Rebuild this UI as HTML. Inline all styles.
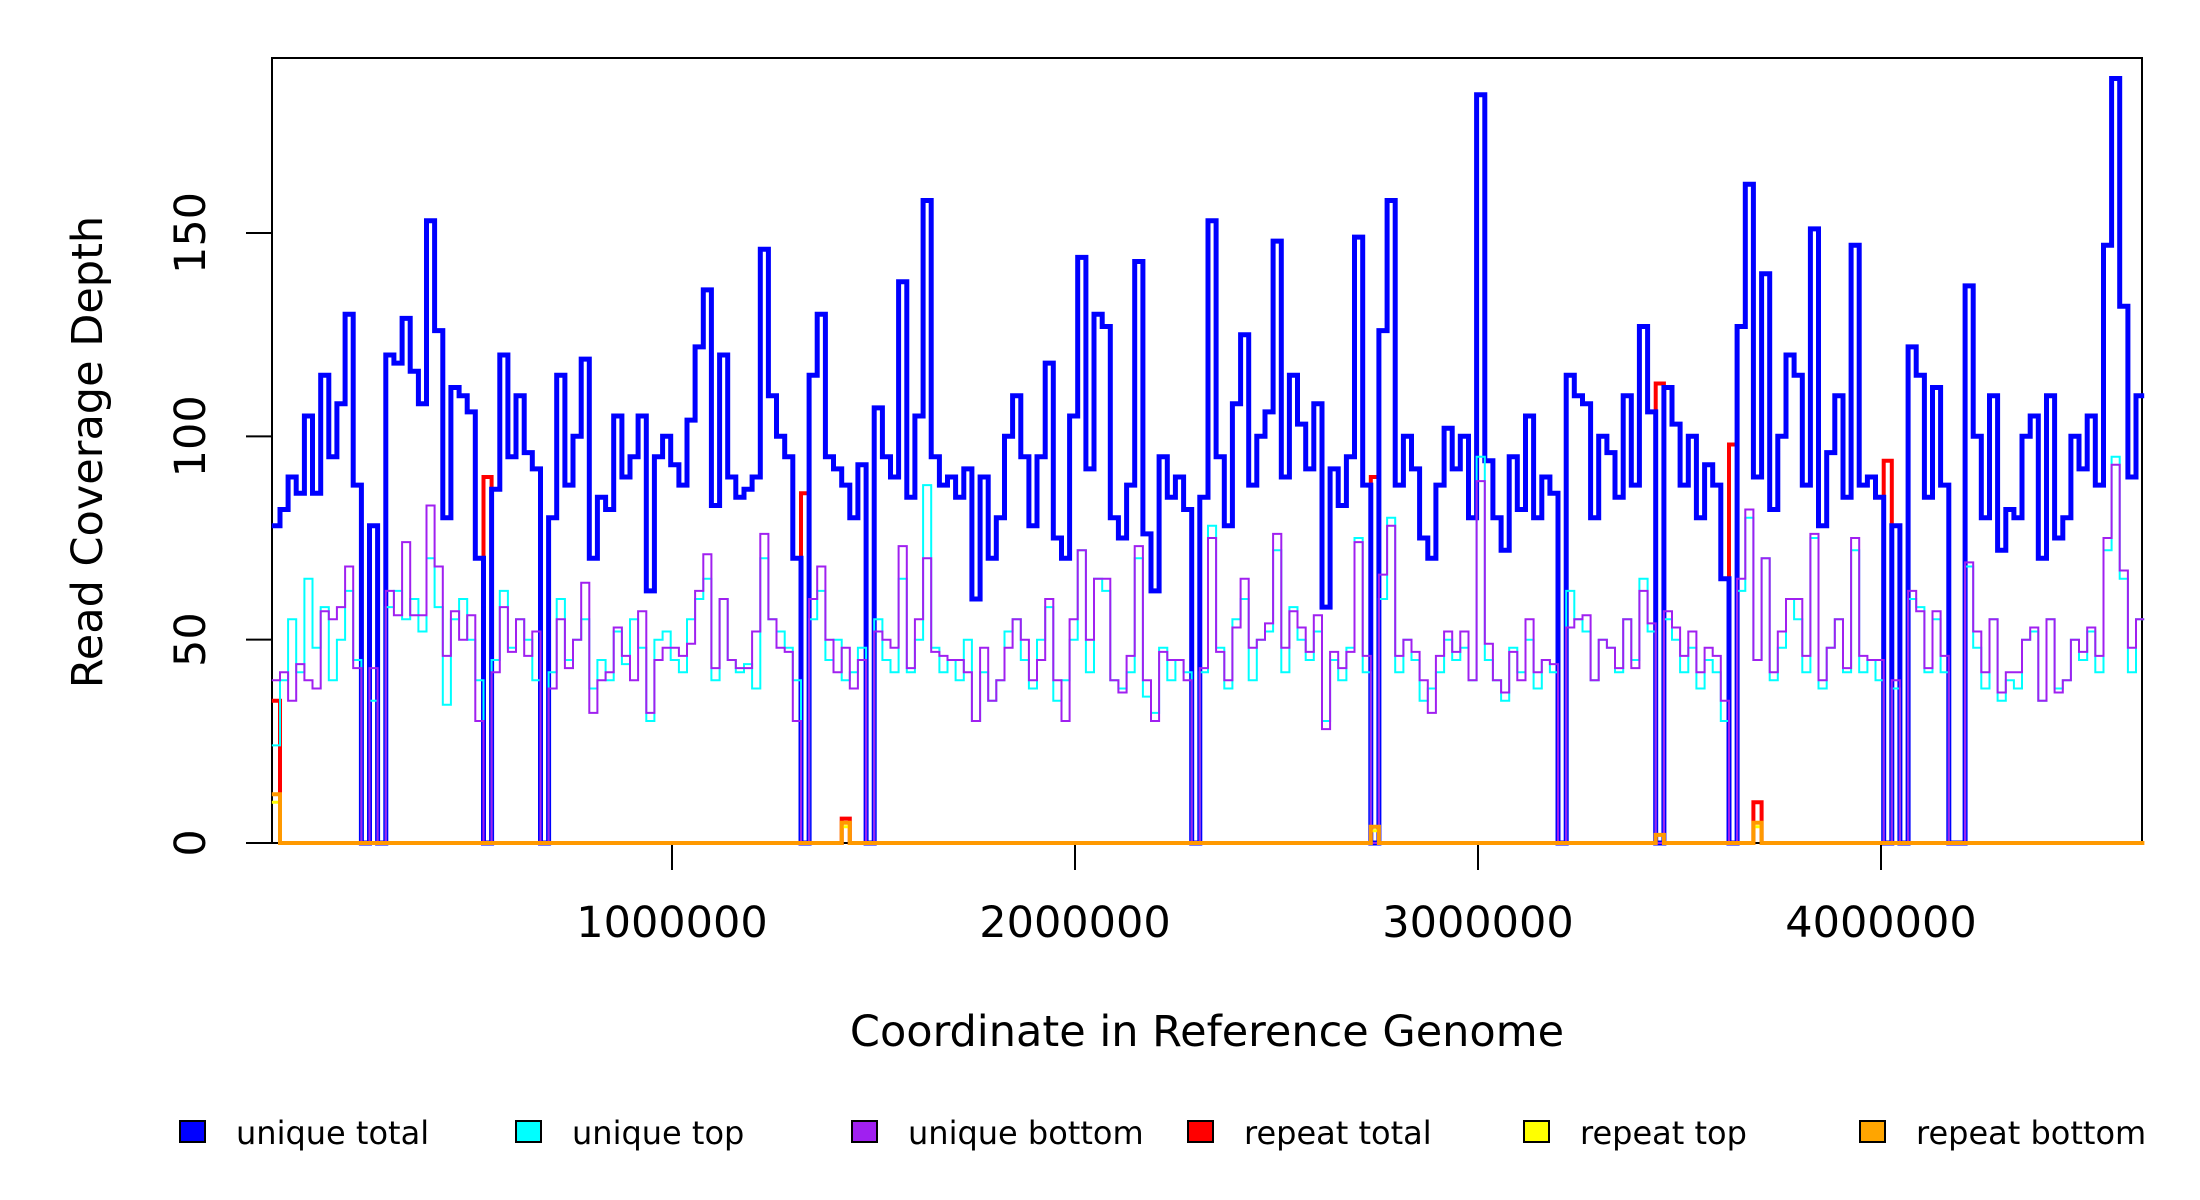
<!DOCTYPE html>
<html><head><meta charset="utf-8"><style>
html,body{margin:0;padding:0;background:#fff;}
svg{display:block;font-family:"DejaVu Sans","Liberation Sans",sans-serif;}
</style></head><body>
<svg id="chart" width="2200" height="1200" viewBox="0 0 2200 1200" xmlns="http://www.w3.org/2000/svg">
<rect x="272" y="58" width="1870" height="785" fill="none" stroke="#000" stroke-width="2"/>
<g id="plot"></g>
<g id="axes"></g>
<text x="1207" y="1046" font-size="43" text-anchor="middle">Coordinate in Reference Genome</text>
<text x="0" y="0" font-size="43" text-anchor="middle" transform="translate(102,452) rotate(-90)">Read Coverage Depth</text>
<g id="legend"></g>
</svg>
<script>
const binStart = 7000;
const binSize = 20200;
const yTicks = [0, 50, 100, 150];
const xTicks = [1000000, 2000000, 3000000, 4000000];
const xTickLabels = ["1000000", "2000000", "3000000", "4000000"];
const seriesNames = ["unique total", "unique top", "unique bottom", "repeat total", "repeat top", "repeat bottom"];
const uniqueTotal = [
78,82,90,86,105,86,115,95,108,130,
88,0,78,0,120,118,129,116,108,153,
126,80,112,110,106,70,0,87,120,95,
110,96,92,0,80,115,88,100,119,70,
85,82,105,90,95,105,62,95,100,93,
88,104,122,136,83,120,90,85,87,90,
146,110,100,95,70,0,115,130,95,92,
88,80,93,0,107,95,90,138,85,105,
158,95,88,90,85,92,60,90,70,80,
100,110,95,78,95,118,75,70,105,144,
92,130,127,80,75,88,143,76,62,95,
85,90,82,0,85,153,95,78,108,125,
88,100,106,148,90,115,103,92,108,58,
92,83,95,149,88,0,126,158,88,100,
92,75,70,88,102,92,100,80,184,94,
80,72,95,82,105,80,90,86,0,115,
110,108,80,100,96,85,110,88,127,106,
0,112,103,88,100,80,93,88,65,0,
127,162,90,140,82,100,120,115,88,151,
78,96,110,85,147,88,90,85,0,78,
0,122,115,85,112,88,0,0,137,100,
80,110,72,82,80,100,105,70,110,75,
80,100,92,105,88,147,188,132,90,110];
const uniqueTop = [
24,40,55,42,65,48,58,40,50,62,
45,0,35,0,58,62,55,60,52,70,
58,34,55,60,50,40,0,45,62,48,
55,50,40,0,42,60,45,50,55,38,
45,40,52,44,55,48,30,50,52,45,
42,55,60,65,40,60,45,42,44,38,
70,55,52,48,40,0,55,62,45,50,
40,42,48,0,55,45,42,65,42,50,
88,48,42,45,40,50,30,42,35,40,
52,55,45,38,50,58,35,40,50,72,
42,65,62,40,38,42,70,36,32,48,
40,45,42,0,42,78,48,38,55,60,
40,50,52,72,42,58,50,45,52,30,
45,40,48,75,42,0,60,80,42,50,
45,35,38,42,50,45,48,40,95,45,
40,35,48,42,50,38,45,42,0,62,
55,52,40,50,48,42,55,45,65,52,
0,55,50,42,48,38,45,42,30,0,
62,80,45,70,40,48,60,55,42,75,
38,48,55,42,72,42,45,40,0,38,
0,60,58,42,55,42,0,0,68,48,
38,55,35,40,38,50,52,35,55,38,
40,50,45,52,42,72,95,65,42,55];
const uniqueBottom = [
40,42,35,44,40,38,57,55,58,68,
43,0,43,0,62,56,74,56,56,83,
68,46,57,50,56,30,0,42,58,47,
55,46,52,0,38,55,43,50,64,32,
40,42,53,46,40,57,32,45,48,48,
46,49,62,71,43,60,45,43,43,52,
76,55,48,47,30,0,60,68,50,42,
48,38,45,0,52,50,48,73,43,55,
70,47,46,45,45,42,30,48,35,40,
48,55,50,40,45,60,40,30,55,72,
50,65,65,40,37,46,73,40,30,47,
45,45,40,0,43,75,47,40,53,65,
48,50,54,76,48,57,53,47,56,28,
47,43,47,74,46,0,66,78,46,50,
47,40,32,46,52,47,52,40,89,49,
40,37,47,40,55,42,45,44,0,53,
55,56,40,50,48,43,55,43,62,54,
0,57,53,46,52,42,48,46,35,0,
65,82,45,70,42,52,60,60,46,76,
40,48,55,43,75,46,45,45,0,40,
0,62,57,43,57,46,0,0,69,52,
42,55,37,42,42,50,53,35,55,37,
40,50,47,53,46,75,93,67,48,55];
const repeatTotal = [
35,0,0,0,0,0,0,0,0,0, 0,0,0,0,0,0,0,0,0,0, 0,0,0,0,0,0,90,0,0,0,
0,0,0,0,0,0,0,0,0,0, 0,0,0,0,0,0,0,0,0,0, 0,0,0,0,0,0,0,0,0,0,
0,0,0,0,0,86,0,0,0,0, 6,0,0,0,0,0,0,0,0,0, 0,0,0,0,0,0,0,0,0,0,
0,0,0,0,0,0,0,0,0,0, 0,0,0,0,0,0,0,0,0,0, 0,0,0,0,0,0,0,0,0,0,
0,0,0,0,0,0,0,0,0,0, 0,0,0,0,0,90,0,0,0,0, 0,0,0,0,0,0,0,0,0,0,
0,0,0,0,0,0,0,0,0,0, 0,0,0,0,0,0,0,0,0,0, 113,0,0,0,0,0,0,0,0,98,
0,0,10,0,0,0,0,0,0,0, 0,0,0,0,0,0,0,0,94,0, 0,0,0,0,0,0,0,0,0,0,
0,0,0,0,0,0,0,0,0,0, 0,0,0,0,0,0,0,0,0,0];
const repeatTop = [
10,0,0,0,0,0,0,0,0,0, 0,0,0,0,0,0,0,0,0,0, 0,0,0,0,0,0,0,0,0,0,
0,0,0,0,0,0,0,0,0,0, 0,0,0,0,0,0,0,0,0,0, 0,0,0,0,0,0,0,0,0,0,
0,0,0,0,0,0,0,0,0,0, 4,0,0,0,0,0,0,0,0,0, 0,0,0,0,0,0,0,0,0,0,
0,0,0,0,0,0,0,0,0,0, 0,0,0,0,0,0,0,0,0,0, 0,0,0,0,0,0,0,0,0,0,
0,0,0,0,0,0,0,0,0,0, 0,0,0,0,0,3,0,0,0,0, 0,0,0,0,0,0,0,0,0,0,
0,0,0,0,0,0,0,0,0,0, 0,0,0,0,0,0,0,0,0,0, 2,0,0,0,0,0,0,0,0,0,
0,0,4,0,0,0,0,0,0,0, 0,0,0,0,0,0,0,0,0,0, 0,0,0,0,0,0,0,0,0,0,
0,0,0,0,0,0,0,0,0,0, 0,0,0,0,0,0,0,0,0,0];
const repeatBottom = [
12,0,0,0,0,0,0,0,0,0, 0,0,0,0,0,0,0,0,0,0, 0,0,0,0,0,0,0,0,0,0,
0,0,0,0,0,0,0,0,0,0, 0,0,0,0,0,0,0,0,0,0, 0,0,0,0,0,0,0,0,0,0,
0,0,0,0,0,0,0,0,0,0, 5,0,0,0,0,0,0,0,0,0, 0,0,0,0,0,0,0,0,0,0,
0,0,0,0,0,0,0,0,0,0, 0,0,0,0,0,0,0,0,0,0, 0,0,0,0,0,0,0,0,0,0,
0,0,0,0,0,0,0,0,0,0, 0,0,0,0,0,4,0,0,0,0, 0,0,0,0,0,0,0,0,0,0,
0,0,0,0,0,0,0,0,0,0, 0,0,0,0,0,0,0,0,0,0, 2,0,0,0,0,0,0,0,0,0,
0,0,5,0,0,0,0,0,0,0, 0,0,0,0,0,0,0,0,0,0, 0,0,0,0,0,0,0,0,0,0,
0,0,0,0,0,0,0,0,0,0, 0,0,0,0,0,0,0,0,0,0];

const NS = "http://www.w3.org/2000/svg";
const X0 = 269, PXPERBP = 403 / 1000000;
const Y0 = 843, PXPERUNIT = 610 / 150;
function xs(v){ return X0 + v * PXPERBP; }
function ys(v){ return Y0 - v * PXPERUNIT; }

const plot = document.getElementById('plot');
const seriesList = [
  {data: repeatTotal, color: "#ff0000", w: 4, name: "series-repeat-total"},
  {data: uniqueTotal, color: "#0000ff", w: 5, name: "series-unique-total"},
  {data: uniqueTop, color: "#00ffff", w: 2, name: "series-unique-top"},
  {data: uniqueBottom, color: "#a020f0", w: 2, name: "series-unique-bottom"},
  {data: repeatTop, color: "#ffff00", w: 3, name: "series-repeat-top"},
  {data: repeatBottom, color: "#ff9900", w: 4, name: "series-repeat-bottom"}
];
seriesList.forEach(s => {
  let d = "";
  s.data.forEach((v, i) => {
    const xa = xs(binStart + i * binSize), xb = xs(binStart + (i + 1) * binSize), y = ys(v);
    d += (i === 0 ? "M" + xa.toFixed(1) + "," + y.toFixed(1) : "V" + y.toFixed(1)) + "H" + xb.toFixed(1);
  });
  const p = document.createElementNS(NS, 'path');
  p.setAttribute('d', d);
  p.setAttribute('fill', 'none');
  p.setAttribute('stroke', s.color);
  p.setAttribute('stroke-width', s.w);
  
  
  plot.appendChild(p);
});

const axes = document.getElementById('axes');
yTicks.forEach(t => {
  const l = document.createElementNS(NS, 'line');
  l.setAttribute('x1', 246); l.setAttribute('x2', 272);
  l.setAttribute('y1', ys(t)); l.setAttribute('y2', ys(t));
  l.setAttribute('stroke', '#000'); l.setAttribute('stroke-width', 2);
  
  
  axes.appendChild(l);
  const tx = document.createElementNS(NS, 'text');
  tx.setAttribute('transform', 'translate(205,' + ys(t) + ') rotate(-90)');
  tx.setAttribute('text-anchor', 'middle');
  tx.setAttribute('font-size', '43');
  tx.textContent = String(t);
  
  
  axes.appendChild(tx);
});
xTicks.forEach((t, i) => {
  const l = document.createElementNS(NS, 'line');
  l.setAttribute('x1', xs(t)); l.setAttribute('x2', xs(t));
  l.setAttribute('y1', 845); l.setAttribute('y2', 870);
  l.setAttribute('stroke', '#000'); l.setAttribute('stroke-width', 2);
  
  
  axes.appendChild(l);
  const tx = document.createElementNS(NS, 'text');
  tx.setAttribute('x', xs(t)); tx.setAttribute('y', 937);
  tx.setAttribute('text-anchor', 'middle');
  tx.setAttribute('font-size', '43');
  tx.textContent = xTickLabels[i];
  
  
  axes.appendChild(tx);
});

const legend = document.getElementById('legend');
const legendColors = ["#0000ff", "#00ffff", "#a020f0", "#ff0000", "#ffff00", "#ffa500"];
const legendX = [180, 516, 852, 1188, 1524, 1860];
seriesNames.forEach((n, i) => {
  const g = document.createElementNS(NS, 'g');
  
  
  const r = document.createElementNS(NS, 'rect');
  r.setAttribute('x', legendX[i]); r.setAttribute('y', 1121);
  r.setAttribute('width', 25); r.setAttribute('height', 21);
  r.setAttribute('fill', legendColors[i]); r.setAttribute('stroke', '#000'); r.setAttribute('stroke-width', 2);
  
  
  g.appendChild(r);
  const tx = document.createElementNS(NS, 'text');
  tx.setAttribute('x', legendX[i] + 56); tx.setAttribute('y', 1144);
  tx.setAttribute('font-size', '32');
  tx.textContent = n;
  
  
  g.appendChild(tx);
  legend.appendChild(g);
});
</script>
</body></html>
